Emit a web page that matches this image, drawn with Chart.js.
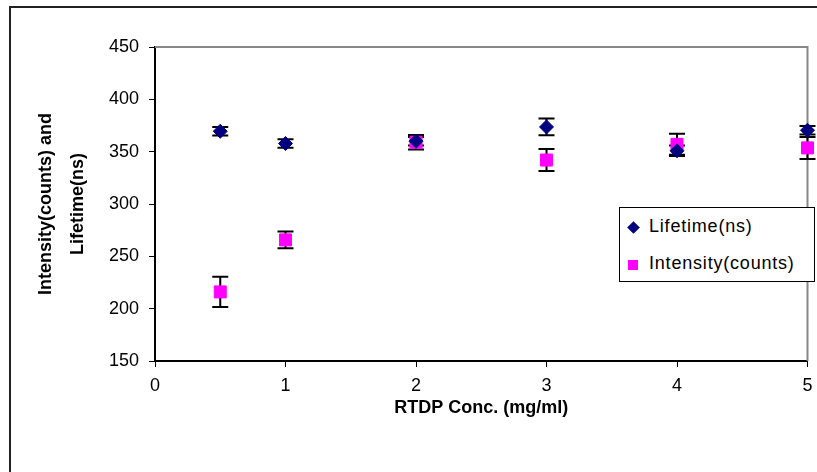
<!DOCTYPE html>
<html>
<head>
<meta charset="utf-8">
<script src="https://cdn.jsdelivr.net/npm/chart.js@4"></script>
<style>
	body { margin: 0; background: #fff; }
	#wrap { position: relative; width: 817px; height: 472px; overflow: hidden; }
	#legend {
		position: absolute; left: 619px; top: 207px; width: 194px; height: 73px;
		border: 1px solid #000; background: #fff;
		font-family: "Liberation Sans", Arial, sans-serif; font-size: 18px; letter-spacing: 0.8px; color: #000;
	}
	#legend div { position: absolute; left: 29px; white-space: nowrap; }
	.mk { position: absolute; }
</style>
</head>
<body>
<div id="wrap">
	<canvas id="chart" width="817" height="472"></canvas>
	<div id="legend">
		<span class="mk" style="left:9px;top:15px;width:9px;height:9px;background:#000080;transform:rotate(45deg)"></span>
		<div style="top:8px">Lifetime(ns)</div>
		<span class="mk" style="left:8px;top:52px;width:10px;height:10px;background:#ff00ff"></span>
		<div style="top:45px">Intensity(counts)</div>
	</div>
</div>
<script>
const conc = [0.5, 1, 2, 3, 4, 5];
const lifetime = [369.5, 357.8, 360, 373.6, 350.8, 370.5];
const lifetimeErr = [4, 4, 4, 8, 5, 4];
const intensity = [216, 265.7, 359, 342, 357, 353.6];
const intensityErr = [14.5, 8, 7, 10.5, 10, 10.5];

const font = "'Liberation Sans', Arial, sans-serif";

// Excel-like frame: outer box, gray top/right plot border, error bars under the markers
const frame = {
	id: "frame",
	beforeDraw(chart) {
		const ctx = chart.ctx;
		ctx.save();
		ctx.strokeStyle = "#222";
		ctx.lineWidth = 2;
		ctx.strokeRect(10, 7, 900, 600);
		ctx.restore();
	},
	beforeDatasetsDraw(chart) {
		const { ctx, chartArea: a } = chart;
		const xs = chart.scales.x, ys = chart.scales.y;
		ctx.save();
		ctx.strokeStyle = "#888";
		ctx.lineWidth = 2;
		ctx.beginPath();
		ctx.moveTo(a.left, a.top);
		ctx.lineTo(a.right, a.top);
		ctx.lineTo(a.right, a.bottom);
		ctx.stroke();

		ctx.strokeStyle = "#000";
		chart.data.datasets.forEach(ds => {
			ds.data.forEach((p, i) => {
				const e = ds.err[i];
				const x = xs.getPixelForValue(p.x);
				const y1 = ys.getPixelForValue(p.y + e);
				const y2 = ys.getPixelForValue(p.y - e);
				ctx.beginPath();
				ctx.moveTo(x, y1); ctx.lineTo(x, y2);
				ctx.moveTo(x - 8, y1); ctx.lineTo(x + 8, y1);
				ctx.moveTo(x - 8, y2); ctx.lineTo(x + 8, y2);
				ctx.stroke();
			});
		});
		ctx.restore();
	}
};

new Chart(document.getElementById("chart"), {
	type: "scatter",
	data: {
		datasets: [{
			label: "Lifetime(ns)",
			data: conc.map((x, i) => ({ x: x, y: lifetime[i] })),
			err: lifetimeErr,
			pointStyle: "rectRot",
			pointRadius: 7,
			pointBackgroundColor: "#000080",
			pointBorderColor: "#000080",
			clip: false
		}, {
			label: "Intensity(counts)",
			data: conc.map((x, i) => ({ x: x, y: intensity[i] })),
			err: intensityErr,
			pointStyle: "rect",
			pointRadius: 8.5,
			pointBackgroundColor: "#ff00ff",
			pointBorderColor: "#ff00ff",
			clip: false
		}]
	},
	options: {
		responsive: false,
		animation: false,
		layout: { padding: { top: 47, right: 9, left: 0, bottom: 0 } },
		scales: {
			x: {
				type: "linear",
				min: 0,
				max: 5,
				afterFit: s => { s.height = 111; s.paddingRight = 0; s.paddingLeft = 0; },
				ticks: { stepSize: 1, color: "#000", padding: 8, font: { family: font, size: 18 } },
				grid: { drawOnChartArea: false, drawTicks: true, tickLength: 6, tickColor: "#000", tickWidth: 1 },
				border: { color: "#000", width: 2 },
				title: {
					display: true,
					text: "RTDP Conc. (mg/ml)",
					color: "#000",
					font: { family: font, size: 18, weight: "bold" },
					padding: { top: 0, bottom: 53 }
				}
			},
			y: {
				min: 150,
				max: 450,
				afterFit: s => { s.width = 155; },
				ticks: { stepSize: 50, color: "#000", padding: 10, font: { family: font, size: 18 } },
				grid: { drawOnChartArea: false, drawTicks: true, tickLength: 6, tickColor: "#000", tickWidth: 1 },
				border: { color: "#000", width: 2 },
				title: {
					display: true,
					text: ["Intensity(counts) and", "Lifetime(ns)"],
					color: "#000",
					font: { family: font, size: 18, weight: "bold", lineHeight: "32px" },
					padding: { top: 30, bottom: 0 }
				}
			}
		},
		plugins: {
			legend: { display: false },
			tooltip: { enabled: false }
		}
	},
	plugins: [frame]
});
</script>
</body>
</html>
